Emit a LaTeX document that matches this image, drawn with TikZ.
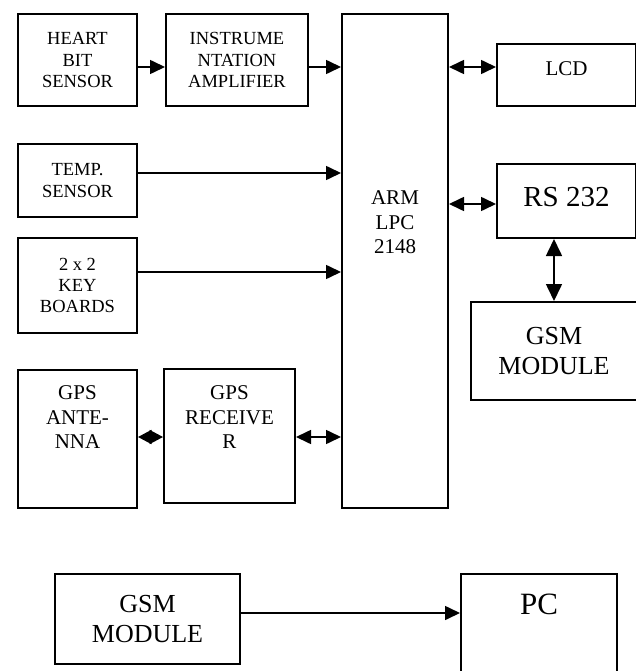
\documentclass[tikz,border=0pt]{standalone}
\usepackage{fontspec}
\setmainfont{Liberation Serif}
\usetikzlibrary{arrows.meta,positioning,calc}

\begin{document}
\begin{tikzpicture}[
    x=1pt, y=-1pt,
    blk/.style={draw, line width=2pt, align=center, inner sep=0pt,
      anchor=north west, font=\fontsize{18.5}{21.3}\selectfont},
    mid/.style={font=\fontsize{21}{24.3}\selectfont},
    big/.style={font=\fontsize{26}{30}\selectfont},
    arr/.style={-{Triangle[length=15pt,width=14pt]}, line width=1.6pt},
    biarr/.style={{Triangle[length=15pt,width=14pt]}-{Triangle[length=15pt,width=14pt]}, line width=1.6pt},
    shortbiarr/.style={{Triangle[length=13.5pt,width=14pt]}-{Triangle[length=13.5pt,width=14pt]}, line width=1.6pt},
    vbiarr/.style={{Triangle[length=17pt,width=16pt]}-{Triangle[length=17pt,width=16pt]}, line width=1.6pt},
  ]
  \useasboundingbox (0,0) rectangle (636,671);
  \clip (0,0) rectangle (636,671);

  % --- left: sensors and inputs ---
  \node[blk, minimum width=119pt, minimum height=92pt] (hb) at (17,13) {HEART\\BIT\\SENSOR};
  \node[blk, minimum width=142pt, minimum height=92pt, right=27pt of hb] (amp) {INSTRUME\\NTATION\\AMPLIFIER};
  \node[blk, minimum width=119pt, minimum height=73pt] (temp) at (17,143) {TEMP.\\SENSOR};
  \node[blk, minimum width=119pt, minimum height=95pt] (key) at (17,237) {2 x 2\\KEY\\BOARDS};
  \node[blk, mid] (gant) at (17,369)
    {\parbox[t][138pt][t]{119pt}{\centering\vspace*{16pt}GPS\\ANTE-\\NNA}};
  \node[blk, mid] (grx) at (163,368)
    {\parbox[t][134pt][t]{131pt}{\centering\vspace*{17pt}GPS\\RECEIVE\\R}};

  % --- centre: the controller ---
  \node[blk, mid] (arm) at (341,13)
    {\parbox[t][494pt][t]{106pt}{\centering\vspace*{177pt}ARM\\LPC\\2148}};

  % --- right: outputs ---
  \node[blk, mid, minimum width=139pt, text height=32pt, text depth=30pt] (lcd) at (496,43) {LCD};
  \node[blk, font=\fontsize{29}{33}\selectfont, minimum width=139pt,
    text height=42pt, text depth=32pt] (rs) at (496,163) {RS 232};
  \node[blk, big, minimum width=166pt, minimum height=98pt] (gsm1) at (470,301) {GSM\\MODULE};

  % --- bottom: GSM to PC ---
  \node[blk, big, minimum width=185pt, minimum height=90pt] (gsm2) at (54,573) {GSM\\MODULE};
  \node[blk, font=\fontsize{31}{36}\selectfont, minimum width=156pt,
    text height=40pt, text depth=62pt] (pc) at (460,573) {PC};

  \draw[arr] (hb.east |- 0,67) -- (amp.west |- 0,67);
  \draw[arr] (amp.east |- 0,67) -- (arm.west |- 0,67);
  \draw[arr] (temp.east |- 0,173) -- (arm.west |- 0,173);
  \draw[arr] (key.east |- 0,272) -- (arm.west |- 0,272);
  \draw[shortbiarr] (gant.east |- 0,437) -- (grx.west |- 0,437);
  \draw[biarr] (grx.east |- 0,437) -- (arm.west |- 0,437);
  \draw[biarr] (arm.east |- 0,67) -- (lcd.west |- 0,67);
  \draw[biarr] (arm.east |- 0,204) -- (rs.west |- 0,204);
  \draw[vbiarr] (gsm1.north |- rs.south) -- (gsm1.north);
  \draw[arr] (gsm2.east |- 0,613) -- (pc.west |- 0,613);
\end{tikzpicture}
\end{document}
